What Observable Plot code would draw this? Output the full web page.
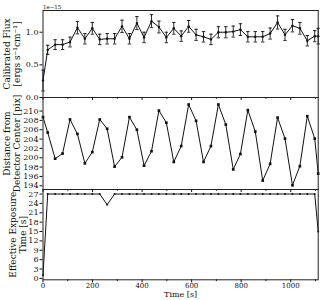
<!DOCTYPE html>
<html><head><meta charset="utf-8">
<script src="https://cdn.jsdelivr.net/npm/d3@7"></script>
<script src="https://cdn.jsdelivr.net/npm/@observablehq/plot@0.6"></script>
<style>
body{margin:0;background:#fff}
#chart{position:relative;width:324px;height:300px;overflow:hidden;background:#fff}
#chart svg{position:absolute;left:0;overflow:visible;background:transparent}
</style>
</head><body><div id="chart"></div>
<script>
// Time bins [s]
const time = [0, 19, 49, 79, 109, 139, 169, 199, 229, 259, 289, 319, 349, 379, 408, 438, 468, 498, 528, 558,
  588, 618, 648, 678, 708, 738, 768, 797, 827, 857, 887, 917, 947, 977, 1007, 1037, 1067, 1097, 1111];
// Calibrated flux [1e-15 ergs s^-1 cm^-1]
const flux = [0.26, 0.73, 0.81, 0.81, 0.85, 1.07, 0.90, 1.06, 0.89, 0.90, 0.90, 1.09, 0.90, 1.14, 0.92, 1.17, 1.08, 0.92, 1.06, 0.94,
  1.09, 0.96, 0.93, 0.89, 1.00, 1.00, 1.01, 1.04, 0.93, 0.93, 0.93, 0.98, 1.15, 0.96, 1.10, 1.06, 0.87, 0.94, 0.94];
const fluxErr = [0.16, 0.07, 0.075, 0.075, 0.075, 0.095, 0.08, 0.09, 0.08, 0.08, 0.08, 0.095, 0.08, 0.10, 0.08, 0.10, 0.09, 0.08, 0.09, 0.08,
  0.09, 0.085, 0.08, 0.08, 0.085, 0.085, 0.085, 0.09, 0.08, 0.08, 0.08, 0.085, 0.10, 0.085, 0.095, 0.09, 0.08, 0.085, 0.12];
// Distance from detector center [pix]
const dist = [208.7, 205.4, 199.8, 200.9, 208.2, 205.1, 198.8, 201.2, 208.2, 206.2, 198.1, 200.1, 208.7, 206.0, 198.3, 201.4, 210.1, 207.5, 199.1, 202.5,
  211.4, 207.9, 199.1, 202.5, 211.4, 207.1, 197.5, 200.8, 210.2, 205.6, 195.1, 198.7, 208.6, 204.1, 194.1, 198.2, 208.9, 204.1, 196.6];
// Effective exposure time [s]
const expo = [1.0, 27, 27, 27, 27, 27, 27, 27, 27, 23.6, 27, 27, 27, 27, 27, 27, 27, 27, 27, 27,
  27, 27, 27, 27, 27, 27, 27, 27, 27, 27, 27, 27, 27, 27, 27, 27, 27, 27, 15];

const xTicks = [0, 200, 400, 600, 800, 1000];
const xMinor = [100, 300, 500, 700, 900, 1100];
const fluxTicks = [0, 0.5, 1.0];
const distTicks = [194, 196, 198, 200, 202, 204, 206, 208, 210];
const expoTicks = [0, 3, 6, 9, 12, 15, 18, 21, 24, 27];

const rows = time.map((t, i) => ({t, f: flux[i], e: fluxErr[i], d: dist[i], x: expo[i]}));

const FONT = "DejaVu Serif";
const INK = "#111";
const capSymbol = {draw(ctx, size) { const r = Math.sqrt(size / Math.PI); ctx.moveTo(-r, 0); ctx.lineTo(r, 0); }};

function panel({top, height, marginTop, marginBottom, yDomain, yTicks, yFormat, label, labelDx, marks, showX}) {
  const svg = Plot.plot({
    width: 324, height, marginLeft: 42.5, marginRight: 6.3, marginTop, marginBottom,
    style: {fontFamily: FONT, fontSize: "8px", color: INK, background: "transparent", overflow: "visible"},
    x: {domain: [0, 1111]},
    y: {domain: yDomain},
    marks: [
      Plot.axisY({ticks: yTicks, tickFormat: yFormat, tickSize: 3, tickPadding: 1.5, label: null, stroke: INK}),
      Plot.axisX({ticks: xTicks, tickSize: 3, tickPadding: 0.5, label: null, fontSize: 7,
        tickFormat: showX ? d3.format("d") : (() => "")}),
      Plot.axisX({ticks: xMinor, tickSize: 1.8, label: null, tickFormat: () => ""}),
      ...marks,
      Plot.frame({stroke: "#222", strokeWidth: 1}),
      Plot.text([label], {frameAnchor: "left", rotate: -90, dx: labelDx, textAnchor: "middle", lineAnchor: "middle",
        fontSize: 9, lineHeight: 1.15, fill: INK})
    ]
  });
  svg.style.top = top + "px";
  document.getElementById("chart").appendChild(svg);
  return svg;
}

panel({
  top: 0, height: 97, marginTop: 10, marginBottom: 0,
  yDomain: [0, 1.333], yTicks: fluxTicks, yFormat: d3.format(".1f"),
  label: "Calibrated Flux\n[ergs s⁻¹cm⁻¹]", labelDx: -31,
  marks: [
    Plot.ruleX(rows, {x: "t", y1: d => d.f - d.e, y2: d => d.f + d.e, stroke: INK, strokeWidth: 0.9}),
    Plot.dot(rows, {x: "t", y: d => d.f - d.e, symbol: capSymbol, r: 1.7, stroke: INK, strokeWidth: 0.9}),
    Plot.dot(rows, {x: "t", y: d => d.f + d.e, symbol: capSymbol, r: 1.7, stroke: INK, strokeWidth: 0.9}),
    Plot.line(rows, {x: "t", y: "f", stroke: INK, strokeWidth: 1}),
    Plot.dot(rows, {x: "t", y: "f", r: 1.2, fill: INK}),
    Plot.text(["1e−15"], {frameAnchor: "top-left", dy: -5, dx: 0, textAnchor: "start", fontSize: 5.5, fill: INK})
  ]
});

panel({
  top: 97, height: 92, marginTop: 0, marginBottom: 0,
  yDomain: [193.2, 212.9], yTicks: distTicks, yFormat: d => d,
  label: "Distance from\nDetector Center [pix]", labelDx: -31,
  marks: [
    Plot.line(rows, {x: "t", y: "d", stroke: INK, strokeWidth: 1}),
    Plot.dot(rows, {x: "t", y: "d", symbol: "square", r: 1.5, fill: INK})
  ]
});

panel({
  top: 189, height: 111, marginTop: 0, marginBottom: 20.7,
  yDomain: [-0.45, 28.45], yTicks: expoTicks, yFormat: d => d,
  label: "Effective Exposure\nTime [s]", labelDx: -25,
  showX: true,
  marks: [
    Plot.line(rows, {x: "t", y: "x", stroke: INK, strokeWidth: 1}),
    Plot.dot(rows, {x: "t", y: "x", r: 1, fill: INK}),
    Plot.text(["Time [s]"], {frameAnchor: "bottom", dy: 17, fontSize: 8, fill: INK})
  ]
});
</script>
</body></html>
